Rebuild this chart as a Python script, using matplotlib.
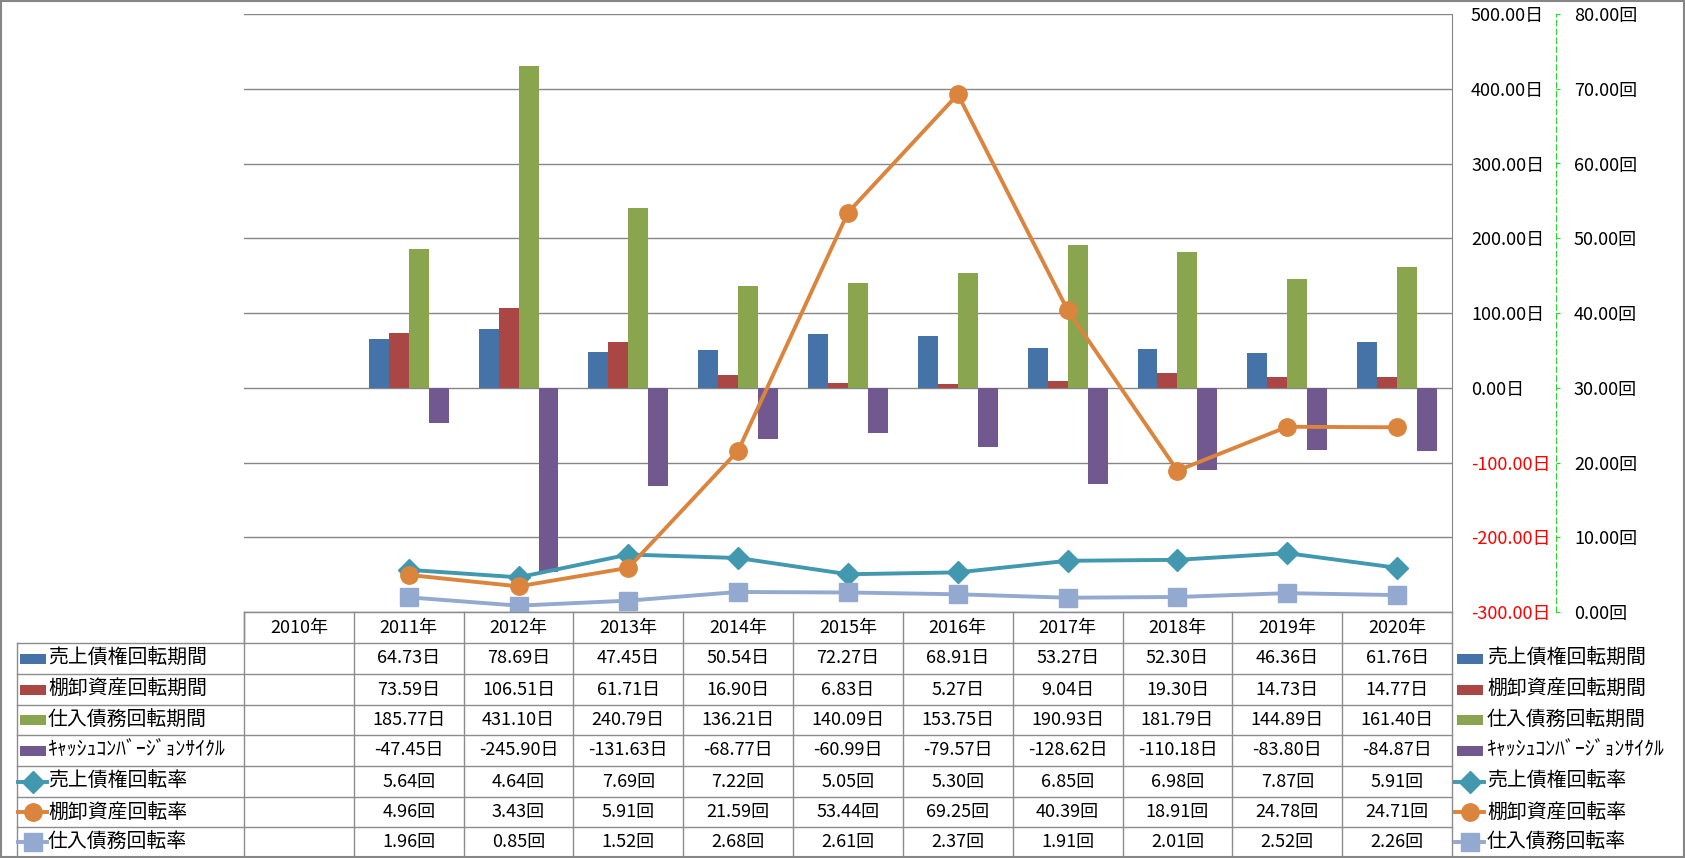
import numpy as np
import matplotlib
matplotlib.use('Agg')
import matplotlib.pyplot as plt
from matplotlib.patches import Rectangle

plt.rcParams['font.family'] = ['Noto Sans CJK JP', 'DejaVu Sans']

# --- データ（表の値をそのまま使用、2010年は空欄） ---
nendo = ['2010年', '2011年', '2012年', '2013年', '2014年', '2015年',
         '2016年', '2017年', '2018年', '2019年', '2020年']
nan = np.nan
uriage_kikan = [nan, 64.73, 78.69, 47.45, 50.54, 72.27, 68.91, 53.27, 52.30, 46.36, 61.76]
tanaoroshi_kikan = [nan, 73.59, 106.51, 61.71, 16.90, 6.83, 5.27, 9.04, 19.30, 14.73, 14.77]
shiire_kikan = [nan, 185.77, 431.10, 240.79, 136.21, 140.09, 153.75, 190.93, 181.79, 144.89, 161.40]
ccc = [nan, -47.45, -245.90, -131.63, -68.77, -60.99, -79.57, -128.62, -110.18, -83.80, -84.87]
uriage_kaiten = [nan, 5.64, 4.64, 7.69, 7.22, 5.05, 5.30, 6.85, 6.98, 7.87, 5.91]
tanaoroshi_kaiten = [nan, 4.96, 3.43, 5.91, 21.59, 53.44, 69.25, 40.39, 18.91, 24.78, 24.71]
shiire_kaiten = [nan, 1.96, 0.85, 1.52, 2.68, 2.61, 2.37, 1.91, 2.01, 2.52, 2.26]

kikan_names = ['売上債権回転期間', '棚卸資産回転期間', '仕入債務回転期間', 'ｷｬｯｼｭｺﾝﾊﾞｰｼﾞｮﾝｻｲｸﾙ']
kaiten_names = ['売上債権回転率', '棚卸資産回転率', '仕入債務回転率']

bar_colors = ['#4572A7', '#AA4643', '#89A54E', '#71588F']
line_colors = ['#4198AF', '#DB843D', '#93A9CF']
line_markers = ['D', 'o', 's']

W, H = 1685, 858
GRAY = '#868686'
FS = 13

fig = plt.figure(figsize=(W / 100, H / 100), dpi=100)

# プロット領域（ピクセル位置）
px_l, px_r, px_t, px_b = 244, 1452, 14, 612
ax = fig.add_axes([px_l / W, 1 - px_b / H, (px_r - px_l) / W, (px_b - px_t) / H])

x = np.arange(len(nendo))
bw = 1 / 5.5
kikan = [uriage_kikan, tanaoroshi_kikan, shiire_kikan, ccc]
for i, (vals, col) in enumerate(zip(kikan, bar_colors)):
    ax.bar(x + (i - 1.5) * bw, vals, width=bw, color=col, zorder=2)

ax.set_xlim(-0.5, len(nendo) - 0.5)
ax.set_ylim(-300, 500)
ax.set_xticks([])
ax.grid(axis='y', color=GRAY, lw=1.0, zorder=0)
for s in ['left', 'top']:
    ax.spines[s].set_visible(False)
ax.spines['right'].set_color(GRAY)
ax.spines['bottom'].set_color(GRAY)

ax2 = ax.twinx()
kaiten = [uriage_kaiten, tanaoroshi_kaiten, shiire_kaiten]
for vals, col, mk in zip(kaiten, line_colors, line_markers):
    ms = 11.5 if mk == 'D' else 12.5
    ax2.plot(x, vals, color=col, lw=2.8, marker=mk, ms=ms, zorder=3)

# 主軸（日）: 右側、ラベル左寄せ
ax.yaxis.tick_right()
ax.tick_params(axis='y', length=0, pad=13.7, labelsize=FS)
yt = np.arange(-300, 501, 100)
ax.set_yticks(yt)
ax.set_yticklabels([f'{v:.2f}日' for v in yt])
for lab, v in zip(ax.get_yticklabels(), yt):
    lab.set_color('red' if v < 0 else 'black')
    lab.set_fontsize(FS)

# 第2軸（回）
ax2.set_ylim(0, 80)
ax2.spines['right'].set_position(('outward', 104 * 0.72))
ax2.spines['right'].set_color('#2FD52F')
ax2.spines['right'].set_linestyle((0, (5, 3)))
for s in ['left', 'top', 'bottom']:
    ax2.spines[s].set_visible(False)
ax2.tick_params(axis='y', direction='out', length=2.9, color='#2FD52F', pad=10, labelsize=FS)
yt2 = np.arange(0, 81, 10)
ax2.set_yticks(yt2)
ax2.set_yticklabels([f'{v:.2f}回' for v in yt2])
for lab in ax2.get_yticklabels():
    lab.set_fontsize(FS)

# --- データテーブル ---
tab = fig.add_axes([0, 0, 1, 1])
tab.set_xlim(0, W)
tab.set_ylim(H, 0)
tab.axis('off')

ncat = len(nendo)
col_edges = px_l + (px_r - px_l) * np.arange(ncat + 1) / ncat
col_mid = (col_edges[:-1] + col_edges[1:]) / 2
row_edges = [612, 643, 674, 705, 735, 766, 797, 827, 857]
leg_l = 17

lc = '#8C8C8C'
tab.plot([px_l, px_l], [row_edges[0], row_edges[1]], color=lc, lw=1)
tab.plot([px_l, px_r], [row_edges[0], row_edges[0]], color=lc, lw=1)
for ye in row_edges[1:-1]:
    tab.plot([leg_l, px_r], [ye, ye], color=lc, lw=1)
tab.plot([leg_l, leg_l], [row_edges[1], row_edges[-1]], color=lc, lw=1)
for xe in col_edges:
    tab.plot([xe, xe], [row_edges[0], row_edges[-1]], color=lc, lw=1)

for xm, name in zip(col_mid, nendo):
    tab.text(xm, (row_edges[0] + row_edges[1]) / 2, name, ha='center', va='center', fontsize=FS)

rows = [(n, v, '日') for n, v in zip(kikan_names, kikan)] + \
       [(n, v, '回') for n, v in zip(kaiten_names, kaiten)]
for r, (name, vals, unit) in enumerate(rows):
    yc = (row_edges[r + 1] + row_edges[r + 2]) / 2
    for xm, v in zip(col_mid, vals):
        if not np.isnan(v):
            tab.text(xm, yc, f'{v:.2f}{unit}', ha='center', va='center', fontsize=FS)
    # 凡例（左と右）
    for sx, tx in [(20, 48), (1457, 1487)]:
        if r < 4:
            tab.add_patch(Rectangle((sx, yc - 5), 26, 10, color=bar_colors[r], lw=0))
        else:
            k = r - 4
            tab.plot([sx - 2, sx + 27], [yc, yc], color=line_colors[k], lw=2.8)
            ms = 11.5 if line_markers[k] == 'D' else 12.5
            tab.plot(sx + 12.5, yc, marker=line_markers[k], ms=ms, color=line_colors[k])
        tab.text(tx, yc, name, ha='left', va='center', fontsize=14.3)

fig.patches.append(Rectangle((0.0005, 0.001), 0.999, 0.998, transform=fig.transFigure,
                             fill=False, edgecolor=GRAY, lw=1.5))

fig.savefig('out.png', dpi=100)
